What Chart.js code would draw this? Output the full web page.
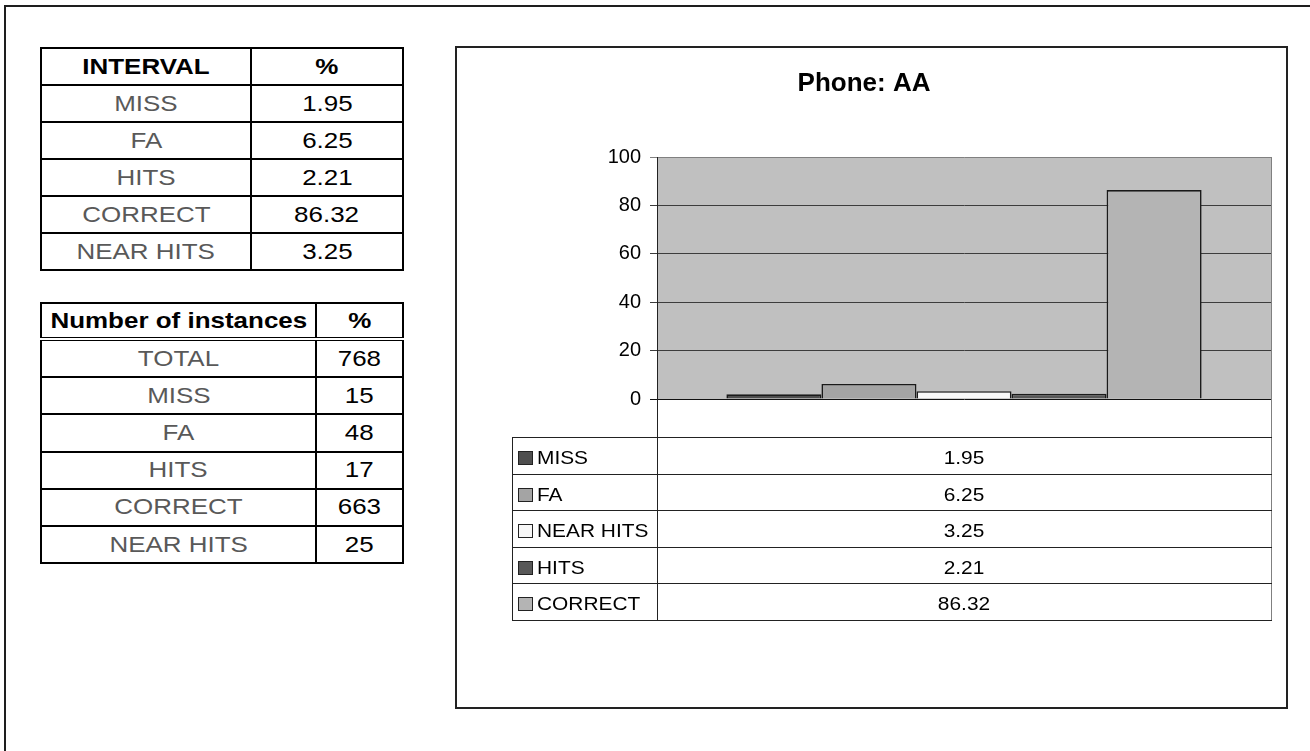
<!DOCTYPE html>
<html>
<head>
<meta charset="utf-8">
<script src="https://cdn.jsdelivr.net/npm/chart.js@4/dist/chart.umd.min.js"></script>
<style>
  html, body { margin: 0; padding: 0; background: #fff; }
  body { width: 1310px; height: 751px; overflow: hidden; position: relative; font-family: 'Liberation Sans', Arial, sans-serif; }
  #frame { position: absolute; left: 4px; top: 5px; width: 2000px; height: 2000px; border: 2px solid #1e1e1e; }
  #chartBox { position: absolute; left: 455px; top: 46px; width: 829px; height: 659px; border: 2px solid #222; }
  #chartBox canvas { position: absolute; left: 0; top: 0; }
  table.sheet { position: absolute; border-collapse: collapse; table-layout: fixed; }
  table.sheet td { border: 2px solid #000; padding: 0; text-align: center; font-size: 22px; line-height: 22px; color: #000; overflow: hidden; white-space: nowrap; }
  table.sheet td.lab { color: #595959; }
  table.sheet td.head { font-weight: bold; }
  table.sheet td span { display: inline-block; transform: scaleX(1.18); transform-origin: 50% 50%; }
  #instances tr.first td { border-bottom: 4px double #000; }
</style>
</head>
<body>
<div id="frame"></div>
<table class="sheet" id="interval" style="left:40px; top:47px; width:362px;">
  <colgroup><col style="width:210px"><col style="width:152px"></colgroup>
</table>
<table class="sheet" id="instances" style="left:40px; top:302px; width:362px;">
  <colgroup><col style="width:275px"><col style="width:87px"></colgroup>
</table>
<div id="chartBox"><canvas id="c" width="829" height="659"></canvas></div>

<script>
// Series plotted in the chart (one bar per series, single category)
const seriesNames = ['MISS', 'FA', 'NEAR HITS', 'HITS', 'CORRECT'];
const seriesValues = [1.95, 6.25, 3.25, 2.21, 86.32];

// INTERVAL table
const intervalHeader = ['INTERVAL', '%'];
const intervalLabels = ['MISS', 'FA', 'HITS', 'CORRECT', 'NEAR HITS'];
const intervalValues = ['1.95', '6.25', '2.21', '86.32', '3.25'];

// Number of instances table
const instancesHeader = ['Number of instances', '%'];
const instancesLabels = ['TOTAL', 'MISS', 'FA', 'HITS', 'CORRECT', 'NEAR HITS'];
const instancesValues = ['768', '15', '48', '17', '663', '25'];

// Value axis
const yMin = 0, yMax = 100, yStep = 20;

const chartTitle = 'Phone: AA';

// Fill colours of the series, in series order
const seriesFill = ['#4e4e4e', '#a4a4a4', '#f7f7f7', '#585858', '#b4b4b4'];

function buildTable(id, header, labels, values, rowH) {
  const t = document.getElementById(id);
  const mk = (a, b, cls, trCls, h) => {
    const tr = document.createElement('tr');
    if (trCls) tr.className = trCls;
    [a, b].forEach((txt, i) => {
      const td = document.createElement('td');
      td.style.height = h + 'px';
      if (cls) td.className = cls;
      else if (i === 0) td.className = 'lab';
      const sp = document.createElement('span');
      sp.textContent = txt;
      td.appendChild(sp);
      tr.appendChild(td);
    });
    t.appendChild(tr);
  };
  mk(header[0], header[1], 'head', 'first', rowH[0]);
  labels.forEach((l, i) => mk(l, values[i], null, null, rowH[1]));
}
buildTable('interval', intervalHeader, intervalLabels, intervalValues, [35, 35]);
buildTable('instances', instancesHeader, instancesLabels, instancesValues, [33, 35.2]);

const FONT = "'Liberation Sans', Arial, sans-serif";

// Grey plot background
const plotBackground = {
  id: 'plotBackground',
  beforeDraw(chart) {
    const { ctx, chartArea: a } = chart;
    ctx.save();
    ctx.fillStyle = '#c0c0c0';
    ctx.fillRect(a.left, a.top, a.right - a.left, a.bottom - a.top);
    ctx.restore();
  }
};

// Data table under the plot: legend key, series name and value per row
const dataTable = {
  id: 'dataTable',
  afterDraw(chart) {
    const { ctx, chartArea: a } = chart;
    const catRowBottom = a.bottom + 38;
    const rowH = 36.6;
    const left = a.left - 145;
    const sets = chart.data.datasets;
    const bottom = catRowBottom + rowH * sets.length;
    const mid = (a.left + a.right) / 2;
    const stretch = 1.16;

    ctx.save();
    ctx.lineWidth = 1;
    // plot right border running down through the table
    ctx.strokeStyle = '#808080';
    ctx.beginPath();
    ctx.moveTo(a.right + 0.5, a.top);
    ctx.lineTo(a.right + 0.5, bottom);
    ctx.stroke();

    ctx.strokeStyle = '#222';
    // value axis continues through the category row and the table
    ctx.beginPath();
    ctx.moveTo(a.left + 0.5, a.bottom);
    ctx.lineTo(a.left + 0.5, bottom);
    ctx.stroke();
    // left edge of the table
    ctx.beginPath();
    ctx.moveTo(left + 0.5, catRowBottom);
    ctx.lineTo(left + 0.5, bottom);
    ctx.stroke();
    // horizontal rules
    for (let i = 0; i <= sets.length; i++) {
      const y = Math.round(catRowBottom + rowH * i) + 0.5;
      ctx.beginPath();
      ctx.moveTo(left, y);
      ctx.lineTo(a.right + 1, y);
      ctx.stroke();
    }

    ctx.font = '18px ' + FONT;
    ctx.textBaseline = 'alphabetic';
    sets.forEach((ds, i) => {
      const y0 = catRowBottom + rowH * i;
      const base = Math.round(y0 + 27);
      // legend key
      ctx.fillStyle = ds.backgroundColor;
      ctx.fillRect(left + 6, base - 12, 14, 12);
      ctx.strokeStyle = '#222';
      ctx.strokeRect(left + 6.5, base - 12.5, 14, 13);
      // name
      ctx.fillStyle = '#000';
      ctx.save();
      ctx.translate(left + 25, base);
      ctx.scale(stretch, 1);
      ctx.textAlign = 'left';
      ctx.fillText(ds.label, 0, 0);
      ctx.restore();
      // value
      ctx.save();
      ctx.translate(mid, base);
      ctx.scale(stretch, 1);
      ctx.textAlign = 'center';
      ctx.fillText(String(ds.data[0]), 0, 0);
      ctx.restore();
    });
    ctx.restore();
  }
};

new Chart(document.getElementById('c'), {
  type: 'bar',
  data: {
    labels: [''],
    datasets: seriesNames.map((name, i) => ({
      label: name,
      data: [seriesValues[i]],
      backgroundColor: seriesFill[i],
      borderColor: '#1a1a1a',
      borderWidth: 1.6,
      categoryPercentage: 0.774,
      barPercentage: 1
    }))
  },
  options: {
    responsive: false,
    devicePixelRatio: 1,
    animation: false,
    layout: { padding: { top: 0, left: 0, right: 15, bottom: 308 } },
    plugins: {
      legend: { display: false },
      tooltip: { enabled: false },
      title: {
        display: true,
        text: chartTitle,
        color: '#000',
        font: { family: FONT, size: 26, weight: 'bold' },
        padding: { top: 20, bottom: 57.8 }
      }
    },
    scales: {
      x: { display: false },
      y: {
        min: yMin,
        max: yMax,
        afterFit(scale) { scale.width = 200; },
        ticks: {
          stepSize: yStep,
          color: '#000',
          padding: 9,
          font: { family: FONT, size: 20 }
        },
        grid: {
          color: (c) => c.tick && c.tick.value === yMax ? '#808080' : (c.tick && c.tick.value === yMin ? '#111' : '#3c3c3c'),
          lineWidth: 1,
          tickLength: 7,
          drawTicks: true
        },
        border: { display: true, color: '#222', width: 1 }
      }
    }
  },
  plugins: [plotBackground, dataTable]
});
</script>
</body>
</html>
